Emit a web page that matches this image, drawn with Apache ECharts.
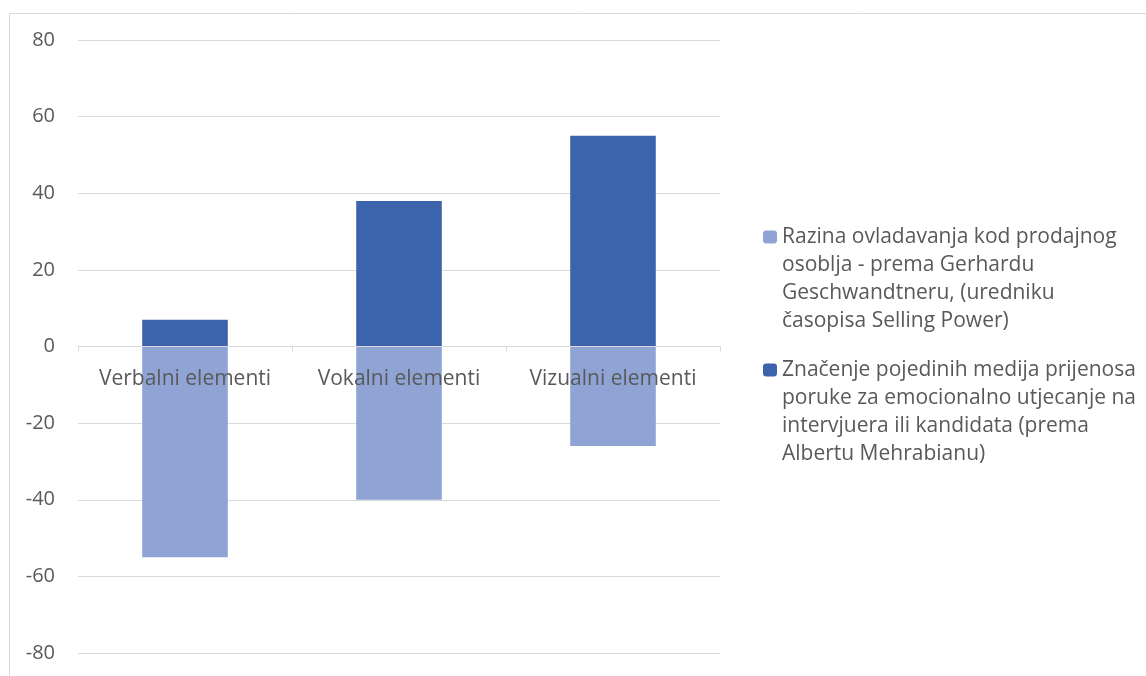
<!DOCTYPE html>
<html>
<head>
<meta charset="utf-8">
<script src="https://cdn.jsdelivr.net/npm/echarts@6/dist/echarts.min.js"></script>
<style>
html,body{margin:0;padding:0;background:#fff;}
#c{width:1146px;height:676px;}
</style>
</head>
<body>
<div id="c"></div>
<script>
const categories = ['Verbalni elementi', 'Vokalni elementi', 'Vizualni elementi'];
const seriesNames = [
  'Razina ovladavanja kod prodajnog\nosoblja - prema Gerhardu\nGeschwandtneru, (uredniku\nčasopisa Selling Power)',
  'Značenje pojedinih medija prijenosa\nporuke za emocionalno utjecanje na\nintervjuera ili kandidata (prema\nAlbertu Mehrabianu)'
];
const razinaValues = [-55, -40, -26];
const znacenjeValues = [7, 38, 55];
const yMin = -80, yMax = 80, yStep = 20;

const FONT = 'Open Sans';
const TXT = '#595959';
const GRID = '#d9d9d9';

const chart = echarts.init(document.getElementById('c'));
function legendCfg(name, top) {
  return {
    data: [name],
    orient: 'vertical',
    left: 763,
    top: top,
    padding: 0,
    itemWidth: 14,
    itemHeight: 13,
    selectedMode: false,
    formatter: function (n) {
      // pad above so the marker sits beside the first line
      const k = n.split('\n').length - 1;
      return '\n'.repeat(k) + n;
    },
    textStyle: { fontFamily: FONT, fontSize: 21, color: TXT, lineHeight: 28 }
  };
}
chart.setOption({
  animation: false,
  backgroundColor: '#fff',
  graphic: [{
    type: 'rect', left: 7, top: 11, silent: true,
    shape: { x: 0, y: 0, width: 1200, height: 700 },
    style: { fill: 'none', stroke: GRID, lineWidth: 1 }
  }],
  grid: { left: 78, right: 426, top: 40, bottom: 23, containLabel: false },
  legend: [legendCfg(seriesNames[0], 139), legendCfg(seriesNames[1], 272)],
  xAxis: {
    type: 'category',
    data: categories,
    z: 5,
    axisLine: { show: true, onZero: true, lineStyle: { color: GRID, width: 1 } },
    axisTick: { show: true, length: 5, lineStyle: { color: GRID } },
    axisLabel: { show: false },
    splitLine: { show: false }
  },
  yAxis: {
    type: 'value',
    min: yMin, max: yMax, interval: yStep,
    axisLine: { show: false },
    axisTick: { show: false },
    axisLabel: { fontFamily: FONT, fontSize: 20, color: TXT, margin: 23 },
    splitLine: { lineStyle: { color: GRID, width: 1 } }
  },
  series: [
    {
      name: seriesNames[0], type: 'bar', stack: 'all', barWidth: '40%',
      data: razinaValues, itemStyle: { color: '#8fa4d5' },
      label: {
        show: true, position: 'insideTop', distance: 19,
        formatter: '{b}', fontFamily: FONT, fontSize: 21, lineHeight: 28, color: TXT
      }
    },
    {
      name: seriesNames[1], type: 'bar', stack: 'all', barWidth: '40%',
      data: znacenjeValues, itemStyle: { color: '#3b64ad' }
    }
  ]
});
</script>
</body>
</html>
